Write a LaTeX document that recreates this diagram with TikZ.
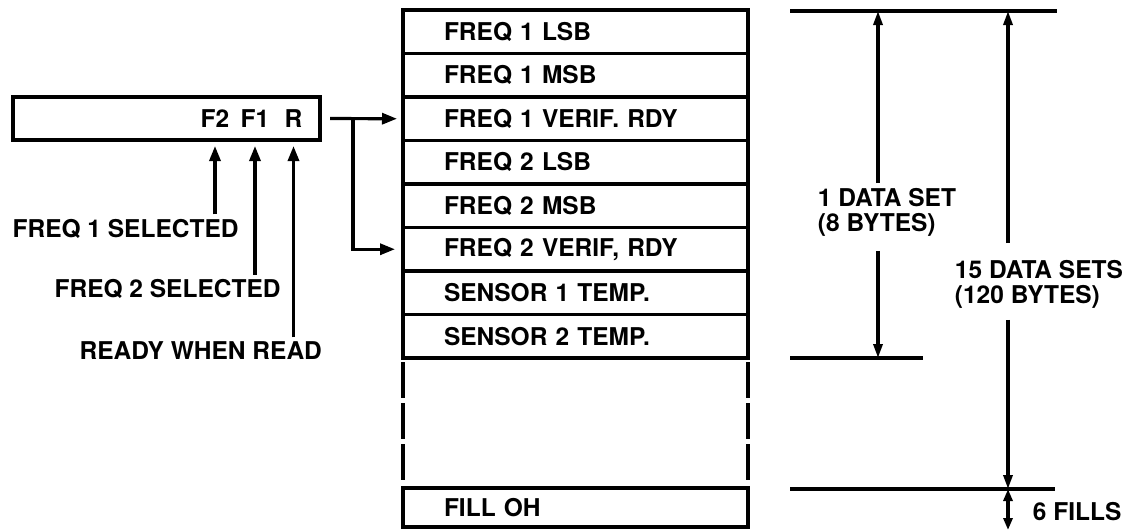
\documentclass[tikz,border=0pt]{standalone}
\usepackage{fontspec}
\setmainfont{TeX Gyre Heros}
\usetikzlibrary{arrows.meta,positioning,chains}

\begin{document}
\begin{tikzpicture}[
  x=1pt, y=-1pt,
  line width=3.2pt,
  every node/.style={font=\fontsize{24.5}{25}\selectfont\bfseries},
  memrow/.style={rectangle, draw, outer sep=0pt, minimum height=43.5pt,
    text width=263pt, inner xsep=41pt, inner ysep=0pt, align=left},
  regbox/.style={rectangle, draw, outer sep=0pt, minimum width=307pt, minimum height=43pt},
  lbl/.style={inner sep=3pt},
  tip/.style={-{Triangle[length=15pt,width=11pt]}},
  dimtip/.style={-{Triangle[length=14pt,width=9pt]}},
  gapline/.style={dash pattern=on 36pt off 5pt, shorten <=4pt, shorten >=4pt}
]
  \useasboundingbox[fill=white] (0,0) rectangle (1129,531);

  % Memory map, one byte per row
  \begin{scope}[start chain=going below, node distance=0pt, every node/.append style={on chain, memrow}]
    \node[anchor=north west] (m1) at (403,10) {FREQ 1 LSB};
    \node (m2) {FREQ 1 MSB};
    \node (m3) {FREQ 1 VERIF. RDY};
    \node (m4) {FREQ 2 LSB};
    \node (m5) {FREQ 2 MSB};
    \node (m6) {FREQ 2 VERIF, RDY};
    \node (m7) {SENSOR 1 TEMP.};
    \node (m8) {SENSOR 2 TEMP.};
  \end{scope}
  \node[memrow, minimum height=39pt, anchor=north west] (fill) at (403,488) {FILL OH};

  % Open section between the data sets and the fills
  \draw[gapline] (m8.south west) -- (fill.north west);
  \draw[gapline] (m8.south east) -- (fill.north east);

  % Status register
  \node[regbox, anchor=north west] (reg) at (13,97) {};
  \node (f2) at (215,118.5) {F2};
  \node (f1) at (255,118.5) {F1};
  \node (rdy) at (293.5,118.5) {R};

  \node[lbl, anchor=west] (sel1) at (8,228.5) {FREQ 1 SELECTED};
  \node[lbl, anchor=west] (sel2) at (50,289) {FREQ 2 SELECTED};
  \node[lbl, anchor=west] (ready) at (75,351) {READY WHEN READ};

  \foreach \from/\to in {sel1/f2, sel2/f1, ready/rdy}
    \draw[tip, shorten >=6pt] (\from.north -| \to) -- (\to |- reg.south);

  % Register copied into the verify bytes
  \coordinate (split) at (353,118.5);
  \draw[tip, shorten <=10pt, shorten >=6pt] (reg.east) -- (m3.west);
  \draw[tip, shorten >=8pt] (split) |- (m6.west);

  % Dimension lines
  \coordinate (topl) at (790,11);  \coordinate (topr) at (1057,11);
  \coordinate (midl) at (790,358); \coordinate (midr) at (923,358);
  \coordinate (botl) at (790,489); \coordinate (botr) at (1055,489);
  \draw (topl) -- (topr);
  \draw (midl) -- (midr);
  \draw (botl) -- (botr);

  \node[anchor=west, align=left] (set1) at (813,212) {1 DATA SET\\(8 BYTES)};
  \coordinate (d1t) at (878,11);  \coordinate (d1b) at (878,358);
  \draw[dimtip] (set1.north -| d1t) -- (d1t);
  \draw[dimtip, shorten <=10pt] (set1.south -| d1t) -- (d1b);

  \node[anchor=west, align=left] (set15) at (950,284) {15 DATA SETS\\(120 BYTES)};
  \coordinate (d2t) at (1008,11); \coordinate (d2b) at (1008,489);
  \coordinate (d2e) at (1008,530);
  \draw[dimtip, shorten <=12pt] (set15.north -| d2t) -- (d2t);
  \draw[dimtip, shorten <=7pt] (set15.south -| d2t) -- (d2b);
  \draw[{Triangle[length=12pt,width=9pt]}-{Triangle[length=12pt,width=9pt]}] (d2b) -- (d2e);
  \node[anchor=west] (fills) at (1028,512) {6 FILLS};
\end{tikzpicture}
\end{document}
